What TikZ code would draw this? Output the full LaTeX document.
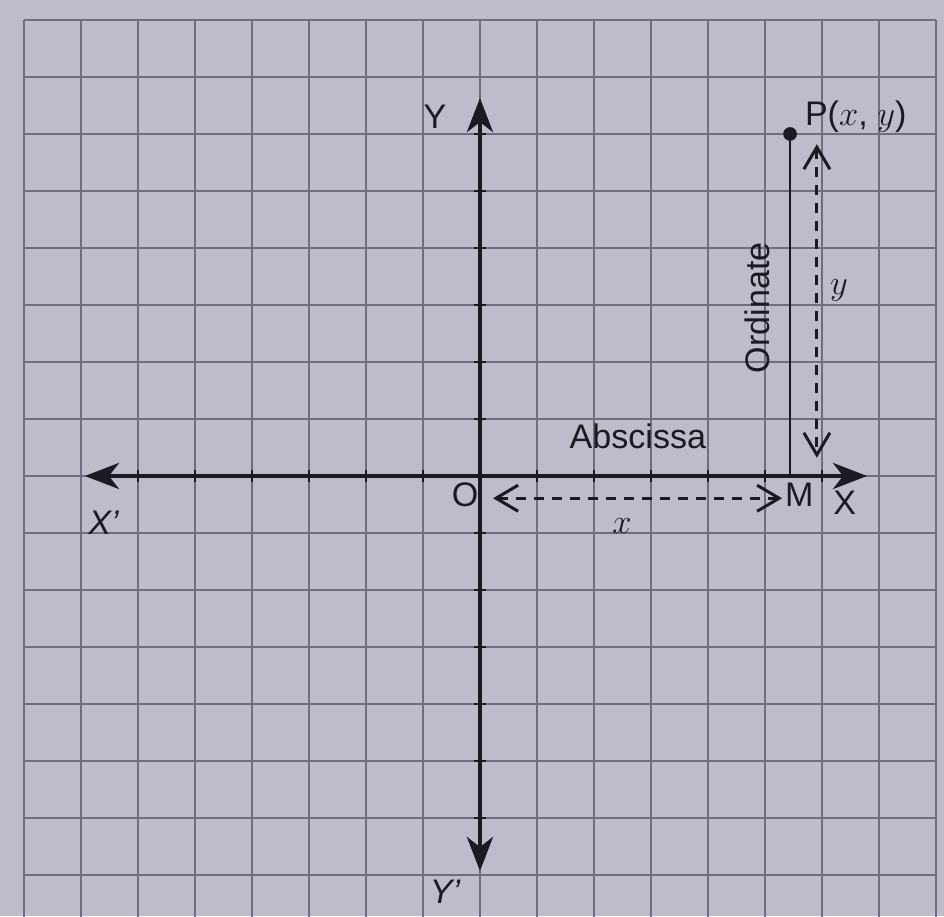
\documentclass[tikz,border=0pt]{standalone}
\usepackage{amsmath}
\usepackage{fontspec}
\setmainfont{Liberation Sans}
\usepackage{xcolor}
\usetikzlibrary{arrows.meta}
\definecolor{paper}{RGB}{188,188,202}
\definecolor{gridc}{RGB}{110,110,126}
\definecolor{ink}{RGB}{26,26,34}

\begin{document}
\begin{tikzpicture}[font=\fontsize{17}{20}\selectfont,
  axis/.style={ink,line width=2pt,{Stealth[length=17pt,width=13pt,inset=5pt]}-{Stealth[length=17pt,width=13pt,inset=5pt]}},
  dimline/.style={ink,line width=1.4pt,dash pattern=on 5pt off 4pt,{Straight Barb[length=11pt,width=13pt,line width=1.5pt]}-{Straight Barb[length=11pt,width=13pt,line width=1.5pt]}},
  lbl/.style={text=ink,inner sep=1pt}]
\fill[paper] (-8.42,-7.72) rectangle (8.14,8.35);
\useasboundingbox (-8.42,-7.72) rectangle (8.14,8.35);
\begin{scope}
\clip (-8.42,-7.72) rectangle (8.14,8.35);
\draw[gridc,line width=0.8pt] (-8,-8) grid (8,8);
\end{scope}
% axes
\coordinate (xneg) at (-6.93,0);
\coordinate (xpos) at (6.79,0);
\coordinate (ypos) at (0,6.63);
\coordinate (yneg) at (0,-6.93);
\draw[axis] (xneg)--(xpos);
\draw[axis] (yneg)--(ypos);
\foreach \t in {-6,...,6} {
  \draw[ink,line width=0.7pt] (\t,-0.1)--(\t,0.1);
  \draw[ink,line width=0.7pt] (-0.1,\t)--(0.1,\t);
}
% point and its distances
\node[circle,fill=ink,inner sep=0pt,minimum size=0.24cm] (P) at (5.44,6) {};
\coordinate (foot) at (5.44,0);
\draw[ink,line width=1.3pt] (P.center)--(foot);
\coordinate (ytop) at (5.91,5.82);
\coordinate (ybot) at (5.91,0.32);
\draw[dimline] (ytop)--(ybot);
\coordinate (xleft) at (0.23,-0.39);
\coordinate (xright) at (5.3,-0.39);
\draw[dimline] (xleft)--(xright);
% labels
\node[lbl] (Ylab) at (-0.79,6.3) {Y};
\node[lbl] (Yneglab) at (-0.61,-7.3) {\textit{Y'}};
\node[lbl] (Xneglab) at (-6.6,-0.82) {\textit{X'}};
\node[lbl] (Xlab) at (6.4,-0.47) {X};
\node[lbl] (Olab) at (-0.26,-0.33) {O};
\node[lbl] (Mlab) at (5.6,-0.33) {M};
\node[lbl,anchor=west] (Plab) at (5.66,6.3) {P($x$, $y$)};
\node[lbl,rotate=90] (ordlab) at (4.86,2.95) {Ordinate};
\node[lbl] (abslab) at (2.77,0.7) {Abscissa};
\node[lbl] (ylab) at (6.3,3.25) {$y$};
\node[lbl] (xlab) at (2.49,-0.88) {$x$};
\end{tikzpicture}
\end{document}
